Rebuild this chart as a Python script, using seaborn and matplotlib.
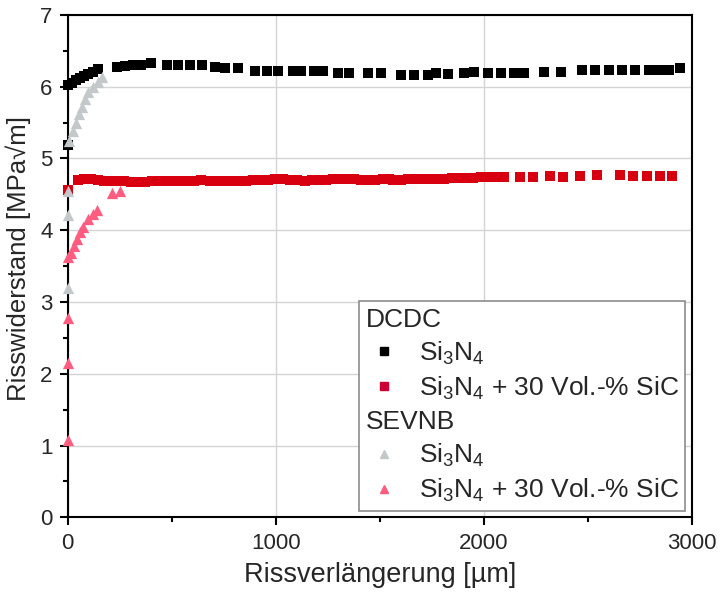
import numpy as np
import pandas as pd
import matplotlib.pyplot as plt
import seaborn as sns
from matplotlib.lines import Line2D
from matplotlib.ticker import MultipleLocator

# ---------------------- data ----------------------
# DCDC, Si3N4
dcdc_si3n4_x = [0, 0, 19, 39, 58, 77, 96, 121, 145,
                236, 274, 313, 351, 399,
                478, 531, 588, 646, 709, 757, 820,
                902, 960, 1013, 1081, 1119, 1182, 1225,
                1298, 1351, 1442, 1505, 1602, 1664, 1732,
                1770, 1828, 1905, 1954, 2021, 2084, 2147, 2195,
                2291, 2373, 2470, 2533, 2600, 2663, 2726, 2793, 2841, 2890, 2945]
dcdc_si3n4_y = [5.19, 6.02, 6.05, 6.09, 6.12, 6.15, 6.18, 6.21, 6.25,
                6.28, 6.29, 6.30, 6.30, 6.33,
                6.30, 6.30, 6.30, 6.30, 6.28, 6.26, 6.26,
                6.22, 6.22, 6.22, 6.22, 6.22, 6.22, 6.22,
                6.19, 6.19, 6.19, 6.19, 6.16, 6.16, 6.16,
                6.19, 6.18, 6.19, 6.21, 6.19, 6.19, 6.19, 6.19,
                6.21, 6.21, 6.23, 6.23, 6.23, 6.23, 6.23, 6.23, 6.23, 6.23, 6.26]

# DCDC, Si3N4 + 30 Vol.-% SiC
dcdc_sic_x = [0,
              48, 80, 112, 144, 176, 208, 240, 272,
              303, 337, 371, 405, 439, 473, 507, 541, 575, 609, 643,
              683, 718, 753, 788, 823, 858, 893, 928, 963, 998, 1033, 1068, 1103,
              1139, 1173, 1207, 1241, 1275, 1309, 1343, 1377, 1411, 1445, 1479, 1513, 1545,
              1565, 1600, 1635, 1670, 1705, 1740, 1775, 1810, 1845, 1880, 1915, 1950, 1985, 2020, 2055, 2095,
              2173, 2236, 2317, 2380, 2462, 2543, 2654, 2716, 2784, 2846, 2904]
dcdc_sic_y = [4.56,
              4.70, 4.71, 4.71, 4.70, 4.69, 4.69, 4.69, 4.69,
              4.67, 4.67, 4.67, 4.68, 4.68, 4.68, 4.68, 4.69, 4.69, 4.69, 4.70,
              4.68, 4.68, 4.68, 4.69, 4.69, 4.69, 4.70, 4.70, 4.70, 4.71, 4.71, 4.70, 4.70,
              4.69, 4.70, 4.70, 4.70, 4.71, 4.71, 4.71, 4.71, 4.70, 4.70, 4.70, 4.71, 4.72,
              4.70, 4.70, 4.71, 4.71, 4.72, 4.72, 4.72, 4.72, 4.73, 4.73, 4.73, 4.73, 4.74, 4.74, 4.74, 4.74,
              4.74, 4.74, 4.75, 4.74, 4.76, 4.77, 4.77, 4.76, 4.76, 4.76, 4.76]

# SEVNB, Si3N4
sevnb_si3n4_x = [0, 0, 0, 5, 24, 40, 55, 70, 85, 100, 120, 145, 165]
sevnb_si3n4_y = [3.20, 4.21, 4.55, 5.25, 5.38, 5.50, 5.62, 5.72, 5.83, 5.93, 6.00, 6.07, 6.14]

# SEVNB, Si3N4 + 30 Vol.-% SiC
sevnb_sic_x = [0, 0, 0, 0, 14, 29, 43, 58, 72, 96, 120, 140, 215, 250]
sevnb_sic_y = [1.07, 2.15, 2.78, 3.62, 3.68, 3.78, 3.88, 3.98, 4.05, 4.15, 4.22, 4.28, 4.52, 4.55]

x_ticks = [0, 1000, 2000, 3000]
y_ticks = [0, 1, 2, 3, 4, 5, 6, 7]

c_black = "#000000"
c_red = "#d80010"
c_gray = "#c3c8ca"
c_pink = "#ff5c80"

# ---------------------- style ----------------------
sns.set_theme(style="whitegrid")
plt.rcParams['font.family'] = ['Liberation Sans', 'DejaVu Sans']
plt.rcParams['mathtext.fontset'] = 'custom'
plt.rcParams['mathtext.rm'] = 'Liberation Sans'
plt.rcParams['mathtext.it'] = 'Liberation Sans:italic'

fig, ax = plt.subplots(figsize=(7.2, 5.98), dpi=100)
fig.subplots_adjust(left=0.094, right=0.961, bottom=0.135, top=0.975)

# ---------------------- plot ----------------------
sq = 48
tri = 66
sns.scatterplot(x=dcdc_si3n4_x, y=dcdc_si3n4_y, marker="s", color=c_black, s=sq,
                linewidth=0, ax=ax, clip_on=False, zorder=3)
sns.scatterplot(x=dcdc_sic_x, y=dcdc_sic_y, marker="s", color=c_red, s=sq,
                linewidth=0, ax=ax, clip_on=False, zorder=3)
sns.scatterplot(x=sevnb_si3n4_x, y=sevnb_si3n4_y, marker="^", color=c_gray, s=tri,
                linewidth=0, ax=ax, clip_on=False, zorder=4)
sns.scatterplot(x=sevnb_sic_x, y=sevnb_sic_y, marker="^", color=c_pink, s=tri,
                linewidth=0, ax=ax, clip_on=False, zorder=4)

ax.set_xlim(0, 3000)
ax.set_ylim(0, 7)
ax.set_xticks(x_ticks)
ax.set_yticks(y_ticks)
ax.xaxis.set_minor_locator(MultipleLocator(500))
ax.yaxis.set_minor_locator(MultipleLocator(0.5))
ax.grid(True, which="major", color="#d4d4d4", linewidth=1)
ax.grid(False, which="minor")
ax.set_facecolor("white")
for sp in ax.spines.values():
    sp.set_color("black")
    sp.set_linewidth(1.5)
ax.tick_params(which="major", direction="out", length=6, width=1.5, color="black",
               labelsize=16, pad=5, bottom=True, left=True)
ax.tick_params(which="minor", direction="out", length=3.5, width=1.5, color="black",
               bottom=True, left=True)
ax.set_xlabel("Rissverlängerung [µm]", fontsize=19.5, labelpad=6)
ax.set_ylabel("Risswiderstand [MPa√m]", fontsize=18.5)
ax.yaxis.set_label_coords(-0.058, 0.515)

# ---------------------- legend with group headers ----------------------
handles = [
    Line2D([], [], ls="none"),
    Line2D([], [], ls="none", marker="s", color=c_black, markersize=5.5),
    Line2D([], [], ls="none", marker="s", color="#cc0033", markersize=5.5),
    Line2D([], [], ls="none"),
    Line2D([], [], ls="none", marker="^", color=c_gray, markersize=6),
    Line2D([], [], ls="none", marker="^", color=c_pink, markersize=6),
]
labels = ["DCDC", "Si$_3$N$_4$", "Si$_3$N$_4$ + 30 Vol.-% SiC",
          "SEVNB", "Si$_3$N$_4$", "Si$_3$N$_4$ + 30 Vol.-% SiC"]
leg = ax.legend(handles, labels, loc="lower right", frameon=True, fancybox=False,
                edgecolor="#8c8c8c", framealpha=1, fontsize=19, handlelength=1.4,
                handletextpad=0.6, labelspacing=0.3, borderpad=0.25, borderaxespad=0.25)
leg.get_frame().set_linewidth(1.2)
rows = leg._legend_handle_box.get_children()[0].get_children()
for i in (0, 3):
    rows[i].get_children()[0].set_width(0)
    rows[i].sep = 0

fig.savefig("out.png", dpi=100)
